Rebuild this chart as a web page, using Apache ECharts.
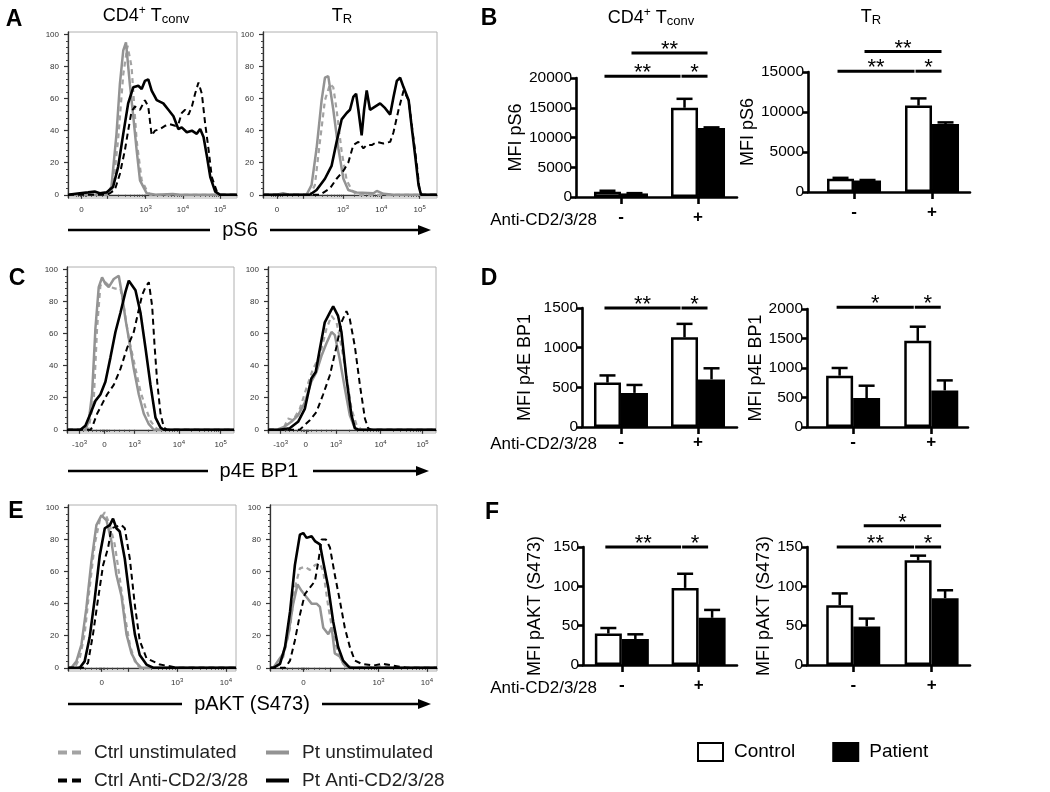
<!DOCTYPE html>
<html><head><meta charset="utf-8">
<script src="https://cdn.jsdelivr.net/npm/echarts@6/dist/echarts.min.js"></script>
<style>html,body{margin:0;padding:0;background:#fff}#c{width:1050px;height:792px}</style>
</head><body><div id="c"></div><script>
// ================= DATA =================
// Histogram x axes: display channel 0-100 (biexponential), tick labels
const pS6TickPos = [8, 46, 68, 90];
const pS6TickLabels = ['0', '10^3', '10^4', '10^5'];
const pS6Decades = [23, 46, 68, 90];
const p4eTickPos = [7.5, 22.5, 40.5, 67, 92];
const p4eTickLabels = ['-10^3', '0', '10^3', '10^4', '10^5'];
const p4eDecades = [40.5, 67, 92];
const aktTickPos = [20, 65, 94];
const aktTickLabels = ['0', '10^3', '10^4'];
const aktDecades = [36, 65, 94];
const histYTicks = [0, 20, 40, 60, 80, 100];
const curveNames = ['Ctrl unstimulated', 'Pt unstimulated', 'Ctrl Anti-CD2/3/28', 'Pt Anti-CD2/3/28'];

// A: pS6, CD4+ Tconv
const aConvCtrlUnstim = [[0,0],[24.5,0],[26.7,5],[29.7,35],[32.7,75],[35.2,93],[37.6,80],[40.6,34],[43.6,9],[46.5,3],[48.5,0],[100,0]];
const aConvPtUnstim = [[0,0],[22.8,0],[25.7,5],[28.7,38],[30.7,69],[32.7,90],[34.3,95],[36.6,69],[38.6,49],[40.6,28],[42.6,9],[46.5,1],[52,0],[62,0.5],[66,0],[100,0]];
const aConvCtrlAnti = [[0,0],[23,0],[24.8,1],[27.7,3],[30.7,13],[33.7,28],[35.6,40],[37.6,52],[39.6,55],[42.6,53],[45.5,59],[47.5,55],[49.5,37],[51.5,40],[54.5,41],[57.4,43],[60.4,44],[63.4,43],[65.3,44],[67.3,51],[69.3,53],[71.3,50],[73.3,55],[75.2,63],[77.2,70],[79.2,63],[81.2,44],[83.2,28],[85.1,11],[88.1,2],[90.1,0],[100,0]];
const aConvPtAnti = [[0,0],[6.9,1],[11.9,1.5],[15.8,2],[18.8,1],[22.8,1.5],[26.7,5],[29.7,17.6],[32.7,38],[35.6,57],[38.6,67],[41.6,68],[43.6,66],[45.5,71],[47.5,72],[49.5,65],[52.5,59],[56.4,57],[59.4,53],[62.4,49],[65.3,41],[67.3,42],[70.3,39],[73.3,40],[76.2,38],[78.2,41],[80.2,36],[82.2,24],[84.2,11],[87.1,2],[90.1,0],[100,0]];
// A: pS6, TR
const aTrCtrlUnstim = [[0,0],[27,0],[29.8,6],[32.7,33],[35.6,59],[38.5,69],[40.4,67],[42.3,53],[45.2,27],[48.1,9],[51,3],[53.8,0],[100,0]];
const aTrPtUnstim = [[0,0],[8,0],[11.5,1],[15,0],[25,0],[27.9,6],[30.8,29],[33.7,59],[35.6,73],[37.5,74],[40.4,53],[43.3,29],[46.2,10],[49,3],[53.8,1.4],[63.5,1],[65.4,2.4],[69.2,0.6],[75,0],[100,0]];
const aTrCtrlAnti = [[0,0],[32.7,0],[35.6,2],[38.5,4],[42.3,10],[46.2,15],[49,20],[51.9,31],[54.8,33],[57.7,29],[59.6,31],[62.5,31],[65.4,33],[69.2,32],[73.1,33],[75,39],[77.9,53],[80.8,65],[83.7,59],[86.5,35],[88.5,18],[90,3],[91.3,0],[100,0]];
const aTrPtAnti = [[0,0],[26.9,0],[30.8,3],[35.6,10],[39.4,18],[42.3,33],[45.2,47],[48.1,51],[50,53],[51.9,61],[53.5,63],[54.8,53],[56.7,37],[58.1,53],[59.6,65],[61.5,53],[64.4,55],[67.3,57],[70.2,54],[73.1,50],[75,61],[76.9,71],[78.8,73],[80.8,67],[83.7,59],[85.6,41],[87.5,24],[89.4,6],[90.8,0],[100,0]];
// C: p4E BP1, CD4+ Tconv
const cConvCtrlUnstim = [[0,0],[12,0],[13,1.4],[16,18],[18,63],[20,90],[23,92],[26,89],[29,88],[32,88],[34,77],[37,57],[40,43],[44,24],[47,14],[50,5.5],[53,1.4],[55,0],[100,0]];
const cConvPtUnstim = [[0,0],[11,0],[13,5.5],[15,22],[17,63],[19,89],[21,95],[23,91],[25,89],[28,94],[31,96],[33,84],[35,69],[37,57],[40,38],[43,22],[46,10],[49,3.5],[52,0],[100,0]];
const cConvCtrlAnti = [[0,0],[14,0],[15,1.4],[18,10],[21,16],[24,22],[28,28],[32,38],[36,51],[40,61],[43,75],[45,84],[47,89],[49,92],[51,77],[52.4,53],[54,30],[56,10],[58,1.4],[60,0],[100,0]];
const cConvPtAnti = [[0,0],[8,0],[11,2.5],[14,10],[17,18],[20,22],[23,30],[26,45],[29,61],[32,73],[35,86],[37,93],[39,90],[41,87],[44,73],[47,51],[50,28],[53,7.6],[56,1.4],[58,0],[100,0]];
// C: p4E BP1, TR
const cTrCtrlUnstim = [[0,0],[8.9,0],[11.9,7],[14.9,6],[18.9,13],[22.9,26],[26.8,38],[30.8,46],[34.8,63],[37.8,71],[40.8,67],[43.7,52],[46.7,34],[49.7,13],[52.7,3],[55.7,0],[100,0]];
const cTrPtUnstim = [[0,0],[5,0],[9.9,2],[13.9,5],[17.9,9],[21.9,17],[25.8,30],[28.8,36],[31.8,46],[34.8,54],[37.8,61],[39.8,59],[42.7,44],[45.7,26],[48.7,9],[51.7,1],[54.7,0],[100,0]];
const cTrCtrlAnti = [[0,0],[18.9,0],[24.9,6],[28.8,11],[32.8,22],[36.8,34],[40.8,52],[43.7,67],[46.7,74],[48.7,69],[51.7,52],[54.7,28],[57.7,7],[59.6,1],[61.6,0],[100,0]];
const cTrPtAnti = [[0,0],[7,0],[12.9,1],[17.9,5],[21.9,13],[25.8,32],[28.4,36],[30.8,50],[33.8,67],[36.8,73],[38.8,77],[41.7,71],[43.7,61],[46.7,32],[49.7,9],[51.7,1],[53.7,0],[100,0]];
// E: pAKT (S473), CD4+ Tconv
const eConvCtrlUnstim = [[0,0],[4,0],[7,6],[9.9,21],[12.9,50],[15.9,77],[18.9,92],[21.9,97],[24.9,89],[27.8,77],[30.8,56],[33.8,33],[36.8,14.5],[39.8,4],[42.7,0],[100,0]];
const eConvPtUnstim = [[0,0],[2,0],[5,4],[8,14.5],[10.9,37],[13.9,66],[16.9,89],[19.9,95],[22.9,92],[25.8,79],[28.8,58],[31.8,45],[34.8,21],[37.8,9],[40.8,3],[43.7,0],[100,0]];
const eConvCtrlAnti = [[0,0],[8.9,0],[11.9,3],[14.9,21],[17.9,43],[20.9,64],[23.9,75],[25.8,87],[28.8,88],[31.8,89],[33.8,87],[36.8,68],[39.8,39],[42.7,17],[46.7,6],[50.7,4],[54.7,2],[60.6,1],[64.6,0],[100,0]];
const eConvPtAnti = [[0,0],[7,0],[9.9,4],[12.9,19],[15.9,43],[18.9,70],[21.9,87],[24.9,89],[26.8,93],[28.8,87],[30.8,85],[33.8,68],[36.8,43],[39.8,21],[42.7,8],[46.7,2],[50.7,0],[100,0]];
// E: pAKT (S473), TR
const eTrCtrlUnstim = [[0,0],[4,0],[8,7],[12,25],[14.9,50],[17.9,62],[20.9,63],[23.9,61],[26.9,64],[29.9,65],[31.9,60],[34.9,38],[37.8,21],[40.8,9],[43.8,2.5],[49.8,0],[61.8,0.5],[67.7,1],[73.7,0.5],[80,0],[100,0]];
const eTrPtUnstim = [[0,0],[2,0],[5,4.5],[8,9],[11,21],[13.9,40],[16.5,52],[18.9,48],[21.9,44],[24.9,40],[27.9,40],[29.9,38],[31.9,25],[34.9,21],[36.9,25],[38.8,9],[41.8,7],[44.8,1.4],[47.8,0],[100,0]];
const eTrCtrlAnti = [[0,0],[9,0],[12,4.5],[14.9,17],[17.9,33],[20.9,46],[23.9,50],[26.9,54],[28.9,66],[30.9,80],[33.5,80],[35.9,75],[38.8,58],[41.8,42],[44.8,25],[47.8,13],[50.8,4.5],[54.8,2.5],[61.8,1.4],[67.7,2.5],[73.7,1.4],[81.7,0],[100,0]];
const eTrPtAnti = [[0,0],[2,0],[6,2.5],[9,13],[12,35],[14.9,64],[17.9,83],[19.9,84],[21.9,81],[24.9,82],[26.9,79],[29.9,77],[31.9,66],[34.9,50],[37.8,29],[40.8,13],[43.8,4.5],[47.8,0],[100,0]];

// Bar charts: conditions and MFI (mean, error)
const conditions = ['-', '+'];
const pS6ConvCtrl = [900, 15000], pS6ConvCtrlErr = [150, 1500];
const pS6ConvPt = [600, 11600], pS6ConvPtErr = [50, 100];
const pS6TrCtrl = [1650, 10800], pS6TrCtrlErr = [120, 900];
const pS6TrPt = [1450, 8500], pS6TrPtErr = [50, 200];
const p4eConvCtrl = [560, 1130], p4eConvCtrlErr = [90, 170];
const p4eConvPt = [430, 600], p4eConvPtErr = [100, 140];
const p4eTrCtrl = [870, 1460], p4eTrCtrlErr = [130, 240];
const p4eTrPt = [490, 620], p4eTrPtErr = [210, 170];
const aktConvCtrl = [40, 98], aktConvCtrlErr = [7, 18];
const aktConvPt = [33, 60], aktConvPtErr = [6, 10];
const aktTrCtrl = [76, 133], aktTrCtrlErr = [15, 6];
const aktTrPt = [49, 85], aktTrPtErr = [10, 10];
// significance: [barA, barB, level value, label]; bars 0 Ctrl-, 1 Pt-, 2 Ctrl+, 3 Pt+
const pS6ConvSig = [[0, 2, 20300, '**'], [2, 3, 20300, '*'], [1, 3, 24200, '**']];
const pS6TrSig = [[0, 2, 15100, '**'], [2, 3, 15100, '*'], [1, 3, 17550, '**']];
const p4eConvSig = [[0, 2, 1500, '**'], [2, 3, 1500, '*']];
const p4eTrSig = [[0, 2, 2030, '*'], [2, 3, 2030, '*']];
const aktConvSig = [[0, 2, 150, '**'], [2, 3, 150, '*']];
const aktTrSig = [[0, 2, 150, '**'], [2, 3, 150, '*'], [1, 3, 177, '*']];

// ================= BUILD =================
const FONT = '"Liberation Sans", Arial, sans-serif';
function logMinors(dec) {
  const out = [];
  for (let i = 0; i < dec.length - 1; i++)
    for (let k = 2; k <= 9; k++) out.push(dec[i] + (dec[i + 1] - dec[i]) * Math.log10(k));
  return out;
}
function evenTicks(a, b, n) { const o = []; for (let i = 1; i < n; i++) o.push(a + (b - a) * i / n); return o; }
const histRows = [
  { pos: pS6TickPos, labels: pS6TickLabels, majors: pS6TickPos.concat([pS6Decades[0]]),
    minors: logMinors(pS6Decades).concat(evenTicks(pS6TickPos[0], pS6Decades[0], 5), [5, 6, 7, 9, 10]) },
  { pos: p4eTickPos, labels: p4eTickLabels, majors: p4eTickPos,
    minors: logMinors(p4eDecades).concat(evenTicks(p4eTickPos[0], p4eTickPos[1], 6), evenTicks(p4eTickPos[1], p4eTickPos[2], 6), [21, 21.7, 23.3, 24]) },
  { pos: aktTickPos, labels: aktTickLabels, majors: aktTickPos.concat([aktDecades[0]]),
    minors: logMinors(aktDecades).concat(evenTicks(aktTickPos[0], aktDecades[0], 5), evenTicks(4, aktTickPos[0], 5), [18.5, 19.2, 20.8, 21.5]) },
];
const histPanels = [
  { row: 0, grid: { left: 68, top: 32, width: 169, height: 166 }, curves: [aConvCtrlUnstim, aConvPtUnstim, aConvCtrlAnti, aConvPtAnti] },
  { row: 0, grid: { left: 263, top: 32, width: 174, height: 166 }, curves: [aTrCtrlUnstim, aTrPtUnstim, aTrCtrlAnti, aTrPtAnti] },
  { row: 1, grid: { left: 67, top: 267, width: 167, height: 166 }, curves: [cConvCtrlUnstim, cConvPtUnstim, cConvCtrlAnti, cConvPtAnti] },
  { row: 1, grid: { left: 268, top: 267, width: 168, height: 166 }, curves: [cTrCtrlUnstim, cTrPtUnstim, cTrCtrlAnti, cTrPtAnti] },
  { row: 2, grid: { left: 68, top: 505, width: 168, height: 166 }, curves: [eConvCtrlUnstim, eConvPtUnstim, eConvCtrlAnti, eConvPtAnti] },
  { row: 2, grid: { left: 270, top: 505, width: 167, height: 166 }, curves: [eTrCtrlUnstim, eTrPtUnstim, eTrCtrlAnti, eTrPtAnti] },
];
const curveStyles = [
  { color: '#a3a3a3', width: 2.2, type: [5, 4], legendType: [9, 5] },
  { color: '#939393', width: 2.5, type: 'solid', legendType: 'solid' },
  { color: '#000', width: 2, type: [6, 4], legendType: [9, 5] },
  { color: '#000', width: 2.6, type: 'solid', legendType: 'solid' },
];
const barPanels = [
  { grid: { left: 576, top: 78, width: 161, height: 119 }, xMin: 0.416, xMax: 2.506, yMax: 20000, yInt: 5000, name: 'MFI pS6', gap: 48, lm: 12,
    ctrl: pS6ConvCtrl, ctrlErr: pS6ConvCtrlErr, pt: pS6ConvPt, ptErr: pS6ConvPtErr, sig: pS6ConvSig },
  { grid: { left: 808, top: 72, width: 162, height: 120 }, xMin: 0.41, xMax: 2.487, yMax: 15000, yInt: 5000, name: 'MFI pS6', gap: 45, lm: 12,
    ctrl: pS6TrCtrl, ctrlErr: pS6TrCtrlErr, pt: pS6TrPt, ptErr: pS6TrPtErr, sig: pS6TrSig },
  { grid: { left: 582, top: 308, width: 155, height: 119 }, xMin: 0.494, xMax: 2.506, yMax: 1500, yInt: 500, name: 'MFI p4E BP1', gap: 48, lm: 7,
    ctrl: p4eConvCtrl, ctrlErr: p4eConvCtrlErr, pt: p4eConvPt, ptErr: p4eConvPtErr, sig: p4eConvSig },
  { grid: { left: 807, top: 309, width: 161, height: 118 }, xMin: 0.41, xMax: 2.47, yMax: 2000, yInt: 500, name: 'MFI p4E BP1', gap: 39, lm: 7,
    ctrl: p4eTrCtrl, ctrlErr: p4eTrCtrlErr, pt: p4eTrPt, ptErr: p4eTrPtErr, sig: p4eTrSig },
  { grid: { left: 583, top: 547, width: 154, height: 118 }, xMin: 0.494, xMax: 2.5, yMax: 150, yInt: 50, name: 'MFI pAKT (S473)', gap: 39, lm: 12,
    ctrl: aktConvCtrl, ctrlErr: aktConvCtrlErr, pt: aktConvPt, ptErr: aktConvPtErr, sig: aktConvSig },
  { grid: { left: 807, top: 547, width: 163, height: 118 }, xMin: 0.41, xMax: 2.49, yMax: 150, yInt: 50, name: 'MFI pAKT (S473)', gap: 31, lm: 12,
    ctrl: aktTrCtrl, ctrlErr: aktTrCtrlErr, pt: aktTrPt, ptErr: aktTrPtErr, sig: aktTrSig },
];

const grids = [], xAxes = [], yAxes = [], series = [];
const tickRich = {
  b: { fontSize: 8, lineHeight: 10, verticalAlign: 'bottom', color: '#333', fontFamily: FONT },
  s: { fontSize: 6, lineHeight: 6, padding: [0, 0, 6, 0], verticalAlign: 'top', color: '#333', fontFamily: FONT }
};
function fmtTick(s) {
  const m = s.match(/^(-?\d+)\^(\d)$/);
  return m ? '{b|' + m[1] + '}{s|' + m[2] + '}' : '{b|' + s + '}';
}
const yMinor = []; for (let v = 4; v < 100; v += 4) if (v % 20) yMinor.push(v);

histPanels.forEach((p, i) => {
  const row = histRows[p.row];
  grids.push(Object.assign({ show: true, borderColor: '#b0b0b0', borderWidth: 1 }, p.grid));
  xAxes.push({ type: 'value', gridIndex: i, position: 'bottom', min: 0, max: 100,
    axisLine: { show: true, lineStyle: { color: '#333', width: 1.3 } },
    axisTick: { show: true, customValues: row.majors, length: 4, lineStyle: { color: '#333', width: 1.2 } },
    axisLabel: { customValues: row.pos, margin: 6, rich: tickRich,
      formatter: v => { const k = row.pos.findIndex(q => Math.abs(q - v) < 1e-6); return k < 0 ? '' : fmtTick(row.labels[k]); } },
    splitLine: { show: false } });
  xAxes.push({ type: 'value', gridIndex: i, position: 'bottom', min: 0, max: 100,
    axisLine: { show: false }, axisTick: { show: true, customValues: row.minors, length: 2, lineStyle: { color: '#444', width: 1 } },
    axisLabel: { show: false }, splitLine: { show: false } });
  yAxes.push({ type: 'value', gridIndex: i, position: 'left', min: -2, max: 101.5,
    axisLine: { show: true, lineStyle: { color: '#333', width: 1.3 } },
    axisTick: { show: true, customValues: histYTicks, length: 4, lineStyle: { color: '#333', width: 1.2 } },
    axisLabel: { customValues: histYTicks, margin: 9, fontSize: 8, color: '#333', fontFamily: FONT },
    splitLine: { show: false } });
  yAxes.push({ type: 'value', gridIndex: i, position: 'left', min: -2, max: 101.5,
    axisLine: { show: false }, axisTick: { show: true, customValues: yMinor, length: 2, lineStyle: { color: '#444', width: 1 } },
    axisLabel: { show: false }, splitLine: { show: false } });
  p.curves.forEach((c, k) => {
    const st = curveStyles[k];
    series.push({ type: 'line', name: curveNames[k], xAxisIndex: 2 * i, yAxisIndex: 2 * i, data: c,
      symbol: 'none', silent: true, z: 2 + k,
      lineStyle: { color: st.color, width: st.width, type: st.type }, itemStyle: { color: st.color } });
  });
});

const BW = 27;
function errRender(offset) {
  return function (params, api) {
    const x = api.value(0), v = api.value(1), e = api.value(2);
    const p0 = api.coord([x, v]), p1 = api.coord([x, v + e]);
    const cx = p0[0] + offset;
    return { type: 'group', children: [
      { type: 'line', shape: { x1: cx, y1: p0[1], x2: cx, y2: p1[1] }, style: { stroke: '#000', lineWidth: 2.5 } },
      { type: 'line', shape: { x1: cx - 8, y1: p1[1], x2: cx + 8, y2: p1[1] }, style: { stroke: '#000', lineWidth: 2.5 } }
    ] };
  };
}
function sigRender(list) {
  return function (params, api) {
    const b = list[params.dataIndex];
    const xa = Math.floor(b[0] / 2) + 1, xb = Math.floor(b[1] / 2) + 1;
    const oa = b[0] % 2 ? BW / 2 : -BW / 2, ob = b[1] % 2 ? BW / 2 : -BW / 2;
    const pa = api.coord([xa, b[2]]), pb = api.coord([xb, b[2]]);
    const x1 = pa[0] + oa - 3, x2 = pb[0] + ob - 4, y = pa[1];
    return { type: 'group', children: [
      { type: 'line', shape: { x1: x1, y1: y, x2: x2, y2: y }, style: { stroke: '#000', lineWidth: 3 } },
      { type: 'text', x: (x1 + x2) / 2, y: y - 3, style: { text: b[3], fontSize: 22, fill: '#000', align: 'center', verticalAlign: 'middle', fontFamily: FONT } }
    ] };
  };
}

barPanels.forEach((p, j) => {
  const gi = histPanels.length + j, xi = 2 * histPanels.length + j, yi = xi;
  grids.push(Object.assign({ show: false }, p.grid));
  xAxes.push({ type: 'value', gridIndex: gi, position: 'bottom', min: p.xMin, max: p.xMax,
    axisLine: { show: true, onZero: false, lineStyle: { color: '#000', width: 2.6 } },
    axisTick: { show: true, customValues: [1, 2], length: 7, lineStyle: { color: '#000', width: 2.6 } },
    axisLabel: { customValues: [1, 2], formatter: v => conditions[Math.round(v) - 1], margin: p.lm,
      fontSize: 17, fontWeight: 'bold', color: '#000', fontFamily: FONT },
    splitLine: { show: false } });
  yAxes.push({ type: 'value', gridIndex: gi, position: 'left', min: 0, max: p.yMax, interval: p.yInt,
    name: p.name, nameLocation: 'middle', nameRotate: 90, nameGap: p.gap,
    nameTextStyle: { fontSize: 18, color: '#000', fontFamily: FONT },
    axisLine: { show: true, lineStyle: { color: '#000', width: 2.6 } },
    axisTick: { show: true, length: 5, lineStyle: { color: '#000', width: 2.6 } },
    axisLabel: { fontSize: 15.5, color: '#000', margin: 4, fontFamily: FONT, formatter: v => String(v) },
    splitLine: { show: false } });
  series.push({ type: 'bar', name: 'Control', xAxisIndex: xi, yAxisIndex: yi, barWidth: BW, barGap: '0%', silent: true,
    data: p.ctrl.map((v, k) => [k + 1, v]), itemStyle: { color: '#fff', borderColor: '#000', borderWidth: 2.5 } });
  series.push({ type: 'bar', name: 'Patient', xAxisIndex: xi, yAxisIndex: yi, barWidth: BW, barGap: '0%', silent: true,
    data: p.pt.map((v, k) => [k + 1, v]), itemStyle: { color: '#000', borderColor: '#000', borderWidth: 2.5 } });
  series.push({ type: 'custom', xAxisIndex: xi, yAxisIndex: yi, silent: true, z: 5, renderItem: errRender(-BW / 2),
    data: p.ctrl.map((v, k) => [k + 1, v, p.ctrlErr[k]]) });
  series.push({ type: 'custom', xAxisIndex: xi, yAxisIndex: yi, silent: true, z: 5, renderItem: errRender(BW / 2),
    data: p.pt.map((v, k) => [k + 1, v, p.ptErr[k]]) });
  series.push({ type: 'custom', xAxisIndex: xi, yAxisIndex: yi, silent: true, z: 6, clip: false, renderItem: sigRender(p.sig),
    data: p.sig.map(s => [s[0], s[2], s[1]]) });
});

// ----- graphic: panel letters, titles, axis arrows, condition labels -----
const g = [];
function letter(t, x, y) { g.push({ type: 'text', x: x, y: y, style: { text: t, font: 'bold 23px ' + FONT, fill: '#000', align: 'center', verticalAlign: 'middle' } }); }
letter('A', 14, 20); letter('B', 489, 19); letter('C', 17, 279); letter('D', 489, 279); letter('E', 16, 512); letter('F', 492, 513);
const titleRich = {
  b: { fontSize: 18, lineHeight: 21, verticalAlign: 'bottom', fontFamily: FONT, fill: '#000', color: '#000' },
  sup: { fontSize: 12, lineHeight: 12, verticalAlign: 'top', fontFamily: FONT, fill: '#000', color: '#000' },
  sub: { fontSize: 13, lineHeight: 14, verticalAlign: 'bottom', fontFamily: FONT, fill: '#000', color: '#000' }
};
function title(txt, x, y) { g.push({ type: 'text', x: x, y: y, style: { text: txt, rich: titleRich, align: 'center', verticalAlign: 'middle' } }); }
const convTitle = '{b|CD4}{sup|+}{b| T}{sub|conv}', trTitle = '{b|T}{sub|R}';
title(convTitle, 146, 15); title(trTitle, 342, 15); title(convTitle, 651, 17); title(trTitle, 871, 16);
function arrow(y, x0, x1, x2, x3, label, cx) {
  g.push({ type: 'line', shape: { x1: x0, y1: y, x2: x1, y2: y }, style: { stroke: '#000', lineWidth: 2.5 } });
  g.push({ type: 'line', shape: { x1: x2, y1: y, x2: x3 - 10, y2: y }, style: { stroke: '#000', lineWidth: 2.5 } });
  g.push({ type: 'polygon', shape: { points: [[x3 - 13, y - 5], [x3, y], [x3 - 13, y + 5]] }, style: { fill: '#000' } });
  g.push({ type: 'text', x: cx, y: y, style: { text: label, font: '20px ' + FONT, fill: '#000', align: 'center', verticalAlign: 'middle' } });
}
arrow(230, 68, 210, 270, 431, 'pS6', 240);
arrow(471, 68, 208, 313, 429, 'p4E BP1', 259);
arrow(704, 68, 182, 322, 431, 'pAKT (S473)', 252);
function stimLabel(y) { g.push({ type: 'text', x: 597, y: y, style: { text: 'Anti-CD2/3/28', font: '17px ' + FONT, fill: '#000', align: 'right', verticalAlign: 'middle' } }); }
stimLabel(220); stimLabel(444); stimLabel(688);

const legendText = { fontSize: 19, color: '#222', fontFamily: FONT, padding: [0, 0, 0, 8] };
function curveLegend(k, left, top) {
  return { data: [curveNames[k]], orient: 'horizontal', left: left, top: top, itemWidth: 23, itemHeight: 14, selectedMode: false,
    textStyle: legendText, lineStyle: { width: 4, type: curveStyles[k].legendType },
    itemStyle: { opacity: 0, color: 'transparent', borderColor: 'transparent', borderWidth: 0 } };
}
const option = {
  animation: false,
  grid: grids, xAxis: xAxes, yAxis: yAxes, series: series, graphic: g,
  legend: [
    curveLegend(0, 51, 738),
    curveLegend(2, 51, 766),
    curveLegend(1, 259, 738),
    curveLegend(3, 259, 766),
    { data: ['Control', 'Patient'], left: 692, top: 737, itemWidth: 25, itemHeight: 18, itemGap: 37, icon: 'rect',
      selectedMode: false, textStyle: { fontSize: 19, color: '#000', fontFamily: FONT, padding: [0, 0, 0, 6] } }
  ]
};
const chart = echarts.init(document.getElementById('c'), null, { renderer: 'canvas' });
chart.setOption(option);
</script></body></html>
